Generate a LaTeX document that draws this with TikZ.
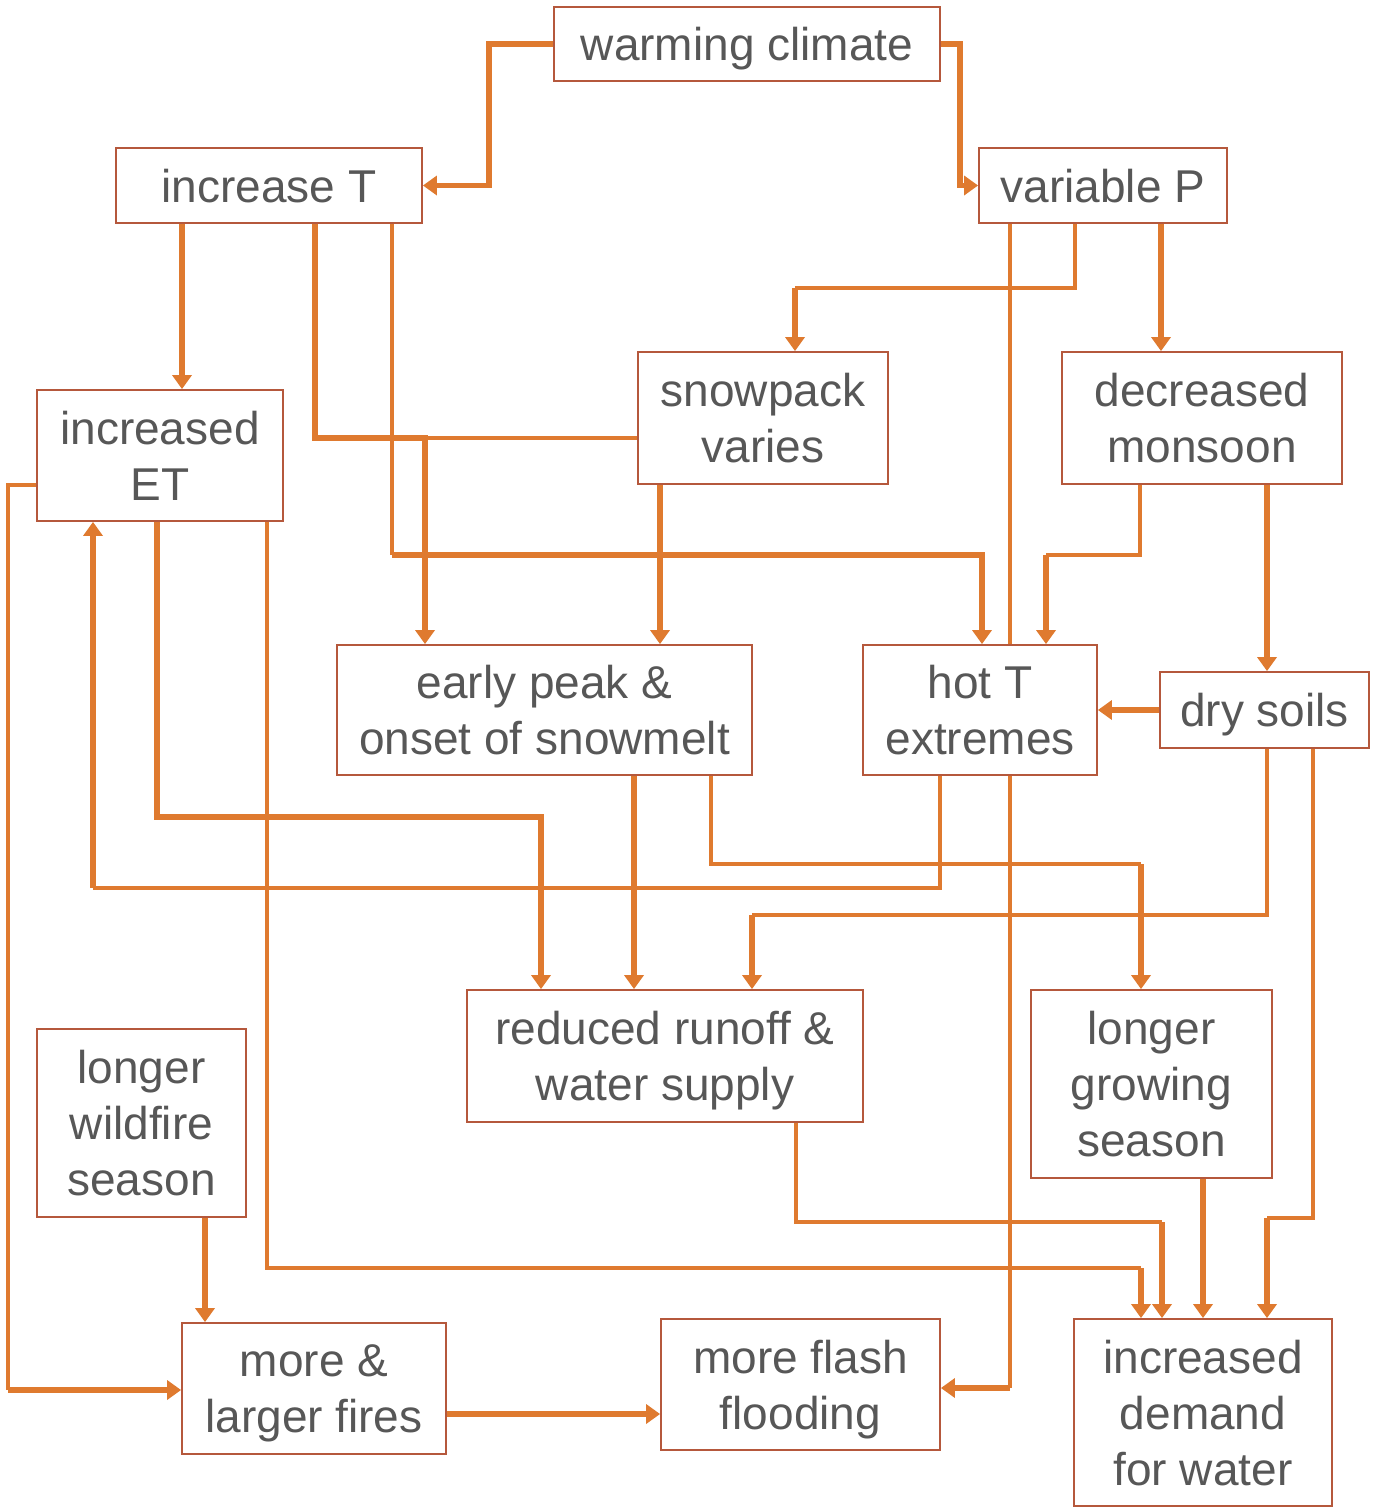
\documentclass[tikz,border=0pt]{standalone}
\usepackage{fontspec}
\setmainfont{Liberation Sans}
\usetikzlibrary{arrows.meta,backgrounds}
\definecolor{conn}{HTML}{DF7A2F}
\definecolor{boxc}{HTML}{B5583C}
\definecolor{txt}{HTML}{575757}
\begin{document}
\begin{tikzpicture}[x=0.5pt,y=-0.5pt,
  box/.style={draw=boxc,line width=0.9pt,fill=white,inner sep=0pt,align=center,
    text=txt,text depth=0pt,font=\fontsize{23}{28}\selectfont},
  thk/.style={draw=conn,line width=2.7pt,line join=miter},
  thn/.style={draw=conn,line width=1.6pt,line join=miter},
  arr/.style={-{Triangle[length=7pt,width=9.5pt]}}]
\useasboundingbox (0,0) rectangle (1372,1509);
\node[box,minimum width=193pt,minimum height=37pt] (warm) at (747,44) {warming climate};
\node[box,minimum width=153pt,minimum height=37.5pt] (incT) at (269,185.5) {increase T};
\node[box,minimum width=124pt,minimum height=37.5pt] (varP) at (1103,185.5) {variable P};
\node[box,minimum width=123pt,minimum height=65.5pt] (incET) at (160,455.5) {increased\\ET};
\node[box,minimum width=125pt,minimum height=66pt] (snow) at (763,418) {snowpack\\varies};
\node[box,minimum width=140pt,minimum height=66pt] (mons) at (1202,418) {decreased\\monsoon};
\node[box,minimum width=207.5pt,minimum height=65pt] (early) at (544.5,710) {early peak \&\\onset of snowmelt};
\node[box,minimum width=117pt,minimum height=65pt] (hotT) at (980,710) {hot T\\extremes};
\node[box,minimum width=104.5pt,minimum height=38pt] (dry) at (1264.5,710) {dry soils};
\node[box,minimum width=198pt,minimum height=66pt] (runoff) at (665,1056) {reduced runoff \&\\water supply};
\node[box,minimum width=120.5pt,minimum height=94pt] (grow) at (1151.5,1084) {longer\\growing\\season};
\node[box,minimum width=104.5pt,minimum height=94pt] (wild) at (141.5,1123) {longer\\wildfire\\season};
\node[box,minimum width=132pt,minimum height=65.5pt] (fires) at (314,1388.5) {more \&\\larger fires};
\node[box,minimum width=139.5pt,minimum height=65.5pt] (flash) at (800.5,1384.5) {more flash\\flooding};
\node[box,minimum width=129pt,minimum height=93.5pt] (demand) at (1203,1412.5) {increased\\demand\\for water};
\begin{scope}[on background layer]
% warming climate
\draw[thk,arr] (warm.west) -| (489,115) |- (incT.east);
\draw[thk,arr] (warm.east) -| (960,115) |- (varP.west);
% increase T
\draw[thk,arr] (incT.south -| 182,0) -- (incET.north -| 182,0);
\draw[thk,arr] (incT.south -| 315,0) |- (425,438) -- (early.north -| 425,0);
\draw[thn] (snow.west |- 0,438) -- (425,438);
\draw[thn] (incT.south -| 392,0) -- (392,555);
\draw[thk,arr] (392,555) -| (hotT.north -| 982,0);
% variable P
\draw[thn] (varP.south -| 1075,0) |- (795,288);
\draw[thk,arr] (795,288) -- (snow.north -| 795,0);
\draw[thn] (varP.south -| 1010,0) -- (1010,1388);
\draw[thk,arr] (1010,1388) -- (flash.east |- 0,1388);
\draw[thk,arr] (varP.south -| 1161,0) -- (mons.north -| 1161,0);
% decreased monsoon
\draw[thn] (mons.south -| 1140,0) |- (1046,555);
\draw[thk,arr] (1046,555) -- (hotT.north -| 1046,0);
\draw[thk,arr] (mons.south -| 1267,0) -- (dry.north -| 1267,0);
% dry soils
\draw[thk,arr] (dry.west) -- (hotT.east |- dry.west);
\draw[thn] (dry.south -| 1267,0) |- (752,915);
\draw[thk,arr] (752,915) -- (runoff.north -| 752,0);
\draw[thn] (dry.south -| 1313,0) |- (1267,1218);
\draw[thk,arr] (1267,1218) -- (demand.north -| 1267,0);
% snowpack
\draw[thk,arr] (snow.south -| 660,0) -- (early.north -| 660,0);
% increased ET
\draw[thk,arr] (incET.south -| 157,0) |- (541,817) -- (runoff.north -| 541,0);
\draw[thn] (incET.south -| 267,0) |- (1141,1268);
\draw[thk,arr] (1141,1268) -- (demand.north -| 1141,0);
\draw[thn] (incET.west |- 0,485) -| (8,1390);
\draw[thk,arr] (8,1390) -- (fires.west |- 0,1390);
% hot T extremes
\draw[thn] (hotT.south -| 940,0) |- (93,888);
\draw[thk,arr] (93,888) -- (incET.south -| 93,0);
% early peak
\draw[thk,arr] (early.south -| 634,0) -- (runoff.north -| 634,0);
\draw[thn] (early.south -| 711,0) |- (1141,864);
\draw[thk,arr] (1141,864) -- (grow.north -| 1141,0);
% reduced runoff
\draw[thn] (runoff.south -| 796,0) |- (1162,1222);
\draw[thk,arr] (1162,1222) -- (demand.north -| 1162,0);
% longer growing season
\draw[thk,arr] (grow.south -| 1203,0) -- (demand.north -| 1203,0);
% wildfire
\draw[thk,arr] (wild.south -| 205,0) -- (fires.north -| 205,0);
\draw[thk,arr] (fires.east |- 0,1414) -- (flash.west |- 0,1414);
\end{scope}
\end{tikzpicture}
\end{document}
